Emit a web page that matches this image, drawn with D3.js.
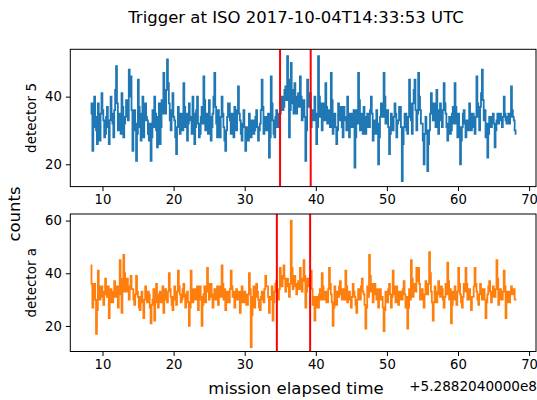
<!DOCTYPE html>
<html><head><meta charset="utf-8">
<script src="https://cdn.jsdelivr.net/npm/d3@7"></script>
<style>body{margin:0;background:#fff}svg{display:block;font-family:"DejaVu Sans",sans-serif}</style>
</head><body><svg id="c" width="537" height="400"></svg>
<script>
const title = "Trigger at ISO 2017-10-04T14:33:53 UTC";
const binStart = 8.32, binWidth = 0.128;
const det5 = [
 35,38,24,31,40,34,30,26,38,33,27,35,41,36,33,28,29,34,37,31,
 26,33,40,35,32,28,36,42,49,38,30,34,35,29,41,37,28,32,34,39,
 38,33,48,40,46,36,24,30,36,32,21,29,45,37,31,27,35,40,28,33,
 38,34,33,29,27,32,21,28,36,31,40,35,30,25,34,38,26,31,39,35,
 47,40,35,42,51,44,38,33,30,36,41,34,33,28,23,31,37,33,29,35,
 35,30,44,37,31,35,27,32,38,34,33,29,40,35,26,31,36,40,32,28,
 29,34,37,32,46,39,30,35,34,29,39,34,27,31,35,40,47,37,32,28,
 36,32,28,34,40,35,31,27,24,30,34,38,38,33,29,35,33,28,37,32,
 30,36,43,35,33,29,27,32,36,31,24,29,31,27,35,30,28,33,33,29,
 30,34,36,31,27,30,32,36,45,37,29,33,34,30,31,35,22,28,46,38,
 33,29,28,34,36,31,31,35,35,38,40,36,37,42,43,39,52,45,28,36,
 50,42,38,35,44,39,35,40,41,37,46,40,33,37,39,34,21,30,45,38,
 37,41,31,36,36,33,40,35,26,31,52,40,34,38,30,35,38,33,44,37,
 32,36,36,31,47,39,29,34,35,31,26,30,38,34,33,37,31,28,37,33,
 34,30,40,35,28,33,35,31,32,36,19,28,36,32,47,39,30,35,34,29,
 37,33,29,34,35,31,31,36,40,35,27,31,33,29,36,32,20,28,34,38,
 38,34,47,40,32,36,36,31,23,29,35,32,30,34,38,35,28,32,33,37,
 37,31,15,26,31,35,35,30,29,34,45,38,33,29,38,42,45,36,30,35,
 47,40,36,32,32,27,20,29,34,30,18,26,30,35,41,36,33,38,36,31,
 42,36,29,34,38,33,31,36,44,38,35,31,27,32,34,29,30,35,37,32,
 44,37,32,28,35,31,20,27,31,35,36,32,28,33,33,30,38,34,30,35,
 35,31,29,34,46,38,34,30,37,41,48,39,33,36,28,32,22,29,34,31,
 31,34,35,32,25,30,33,35,32,34,35,33,31,34,40,35,33,32,34,35,
 32,34,43,36,34,33,30,29];
const detA = [
 43,36,27,33,36,30,17,26,41,34,30,35,35,31,28,33,38,32,31,35,
 23,30,34,29,29,33,37,31,32,35,27,32,45,38,25,33,47,40,33,36,
 38,33,30,35,39,34,34,30,28,32,39,33,31,27,26,31,33,29,23,30,
 35,31,29,33,32,27,21,28,30,34,22,29,36,31,27,32,33,29,30,35,
 25,31,34,30,29,33,40,34,31,28,26,31,35,30,28,33,41,35,32,29,
 30,34,36,31,27,32,33,29,20,27,41,34,29,33,34,30,31,35,26,30,
 35,31,20,28,32,35,29,33,42,36,30,34,36,31,27,32,34,30,31,35,
 28,32,35,31,43,36,30,34,26,30,33,29,29,34,41,35,31,33,27,31,
 34,30,30,33,25,29,35,31,29,33,32,28,28,32,40,34,12,24,31,35,
 27,31,36,33,30,27,26,31,33,30,29,34,39,35,35,31,25,30,31,35,
 22,29,33,36,37,33,30,34,42,37,35,39,43,38,33,37,38,35,31,36,
 60,42,34,38,39,35,32,36,37,34,42,38,33,37,45,39,27,33,38,35,
 36,39,41,34,28,31,22,28,31,27,27,32,34,30,40,35,30,33,33,29,
 29,34,42,36,32,29,20,27,35,31,28,33,31,35,37,32,30,34,34,30,
 41,35,29,33,33,30,27,31,36,33,31,28,25,30,34,31,30,35,38,33,
 32,28,19,27,35,31,47,39,33,36,29,32,36,33,30,34,27,31,34,30,
 31,27,18,26,33,30,29,34,36,32,27,31,41,35,32,29,35,31,28,33,
 33,30,30,34,37,32,27,31,19,27,34,30,45,38,31,35,36,33,42,37,
 42,36,30,34,34,30,27,32,37,33,32,36,48,40,33,29,22,29,35,31,
 29,33,37,32,31,35,34,30,27,31,36,32,44,37,30,34,21,28,33,30,
 35,31,28,33,42,36,32,29,27,31,36,33,42,36,30,34,34,30,26,31,
 31,35,42,36,33,30,28,32,36,33,30,34,34,30,23,29,32,35,37,33,
 29,32,35,31,31,34,45,38,28,32,34,30,30,33,41,35,23,29,33,30,
 29,33,35,32,32,34,30,30];
const panels = [
  {name:"detector 5", values:det5, color:"#1f77b4", lines:[34.97,39.28], yDomain:[13.4,54.0], yTicks:[20,40], top:49.3, bottom:186.6},
  {name:"detector a", values:detA, color:"#ff7f0e", lines:[34.52,39.2], yDomain:[10.3,62.5], yTicks:[20,40,60], top:214, bottom:351.5}
];
const xTicks = [10,20,30,40,50,60,70];
const xDomain = [5.47, 70.97];
const offsetText = "+5.2882040000e8";

const svg = d3.select("#c");
const L = 70.3, R = 536;
const x = d3.scaleLinear().domain(xDomain).range([L, R]);
const tickFs = 13.2;

svg.append("text").attr("x",296).attr("y",23).attr("text-anchor","middle")
  .attr("font-size",16.5).attr("fill","#000").text(title);

panels.forEach((p,k)=>{
  const y = d3.scaleLinear().domain(p.yDomain).range([p.bottom,p.top]);
  const g = svg.append("g");
  const pts = p.values.map((v,i)=>[binStart+i*binWidth, v]);
  pts.push([binStart+p.values.length*binWidth, p.values[p.values.length-1]]);
  const clip = "clip"+k;
  svg.append("clipPath").attr("id",clip).append("rect").attr("x",L).attr("y",p.top).attr("width",R-L).attr("height",p.bottom-p.top);
  g.append("path").attr("clip-path",`url(#${clip})`).datum(pts)
    .attr("d", d3.line().x(d=>x(d[0])).y(d=>y(d[1])).curve(d3.curveStepAfter))
    .attr("fill","none").attr("stroke",p.color).attr("stroke-width",1.8).attr("stroke-linejoin","miter");
  p.lines.forEach(t=>{
    g.append("line").attr("x1",x(t)).attr("x2",x(t)).attr("y1",p.top).attr("y2",p.bottom)
      .attr("stroke","#ff0000").attr("stroke-width",2);
  });
  const ax = g.append("g").attr("transform",`translate(0,${p.bottom})`)
    .call(d3.axisBottom(x).tickValues(xTicks).tickSize(4.5).tickPadding(4).tickFormat(d3.format("d")));
  const ay = g.append("g").attr("transform",`translate(${L},0)`)
    .call(d3.axisLeft(y).tickValues(p.yTicks).tickSize(4.5).tickPadding(4).tickFormat(d3.format("d")));
  [ax,ay].forEach(a=>{
    a.select(".domain").remove();
    a.selectAll("text").attr("font-size",tickFs).attr("fill","#000").attr("font-family","DejaVu Sans");
    a.selectAll("line").attr("stroke","#000").attr("stroke-width",1);
  });
  g.append("rect").attr("x",L).attr("y",p.top).attr("width",R-L).attr("height",p.bottom-p.top)
    .attr("fill","none").attr("stroke","#000").attr("stroke-width",1);
  g.append("text").attr("transform",`translate(36,${(p.top+p.bottom)/2}) rotate(-90)`)
    .attr("text-anchor","middle").attr("font-size",13.5).attr("fill","#000").text(p.name);
});

svg.append("text").attr("transform","translate(20,214) rotate(-90)").attr("text-anchor","middle")
  .attr("font-size",16.5).attr("fill","#000").text("counts");
svg.append("text").attr("x",296).attr("y",394).attr("text-anchor","middle")
  .attr("font-size",16.5).attr("fill","#000").text("mission elapsed time");
svg.append("text").attr("x",537).attr("y",391).attr("text-anchor","end")
  .attr("font-size",13.6).attr("fill","#000").text(offsetText);
</script></body></html>
